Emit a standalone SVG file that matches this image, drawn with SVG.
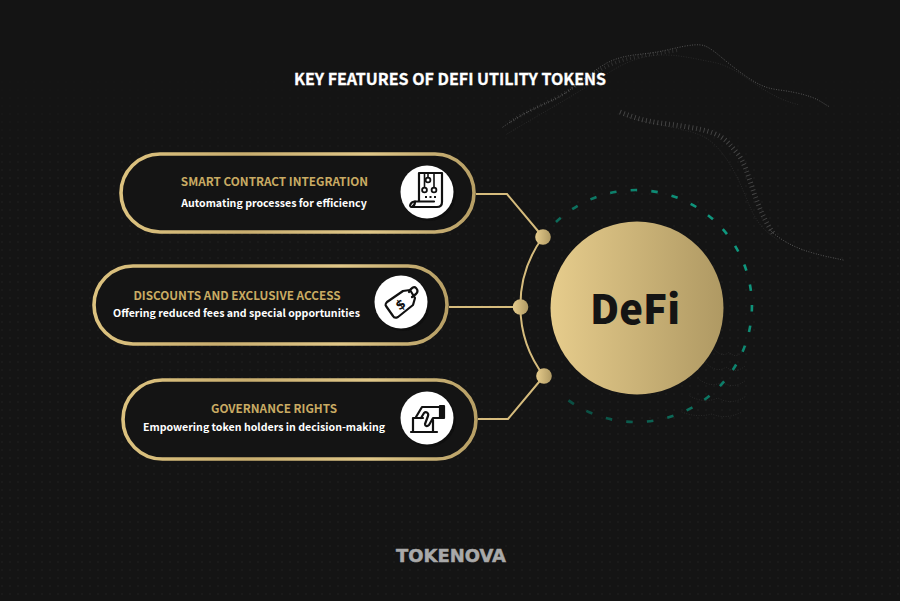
<svg xmlns="http://www.w3.org/2000/svg" width="900" height="601" viewBox="0 0 900 601">
<style>
.h{font-family:"Noto Sans CJK KR","Noto Sans",sans-serif;font-weight:700;font-size:11.75px;fill:#c9ab63;text-anchor:middle}
.s{font-family:"Noto Sans CJK KR","Noto Sans",sans-serif;font-weight:700;font-size:10.6px;fill:#fff;text-anchor:middle}
.pill{fill:#141414;stroke:url(#pg);stroke-width:3.6}
.conn{fill:none;stroke:#d6bc7d;stroke-width:2}
.dot{fill:url(#gold)}
.ic{fill:none;stroke:#111;stroke-width:2.2;stroke-linejoin:round;stroke-linecap:round}
.cc{fill:none;stroke:#111;stroke-width:1.8}
.wave{fill:none;stroke:#aaa;stroke-linecap:round;stroke-dasharray:0.1 2.4}
.comb{fill:none;stroke:#999;stroke-dasharray:.9 3}
</style>
<defs>
<linearGradient id="gold" x1="0" x2="1" y1="0" y2="0"><stop offset="0" stop-color="#e6cc8c"/><stop offset="1" stop-color="#af9963"/></linearGradient>
<linearGradient id="pg" x1="0" x2="1" y1="0" y2="0"><stop offset="0" stop-color="#dcc27f"/><stop offset=".35" stop-color="#c9ae6f"/><stop offset=".7" stop-color="#e0c788"/><stop offset="1" stop-color="#b79f65"/></linearGradient>
<linearGradient id="teal" gradientUnits="userSpaceOnUse" x1="540" x2="752" y1="380" y2="250"><stop offset="0" stop-color="#0a4a3f"/><stop offset="1" stop-color="#0f9c82"/></linearGradient>
<pattern id="dots" width="8" height="8" patternUnits="userSpaceOnUse"><circle cx="2" cy="2" r=".75" fill="#212121"/></pattern>
<linearGradient id="fade" x1="0" x2="0" y1="0" y2="1"><stop offset="0" stop-color="#fff" stop-opacity="0"/><stop offset=".2" stop-color="#fff"/><stop offset="1" stop-color="#fff"/></linearGradient>
<mask id="m"><rect y="60" width="900" height="541" fill="url(#fade)"/></mask>
</defs>
<rect width="900" height="601" fill="#141414"/>
<rect width="900" height="601" fill="url(#dots)" mask="url(#m)"/>
<g id="background-waves">
<path class="wave" stroke-width="1" opacity=".5" d="M503 127C520 115 535 108 553 100S590 72 607 63 640 55 657 52 695 42 705 46 725 62 747 77 775 88 797 93 820 102 830 107"/>
<path class="comb" stroke-width="3.500" opacity=".22" d="M510 122C525 112 540 106 556 98S590 74 610 65 650 55 680 50"/>
<path class="wave" stroke-width=".8" opacity=".2" d="M507 134C530 120 570 98 610 72S680 56 712 62 760 96 800 105"/>
<path class="comb" stroke-width="5" opacity=".38" d="M620 112C635 118 645 121 660 123S700 128 713 133 730 145 737 153 748 175 753 190 765 222 773 233"/>
<path class="wave" stroke-width="1" opacity=".5" d="M770 230C780 240 795 248 813 253S835 258 843 260"/>
<path class="wave" stroke-width=".8" opacity=".2" d="M625 116C645 124 690 128 706 138S735 170 745 195 760 228 778 240"/>
<path class="wave" stroke-width=".8" opacity=".3" d="M250 158C265 163 280 163 293 160M367 197C378 194 390 194 400 195"/>
<path class="wave" stroke-width=".8" opacity=".2" d="M715 350q8 8 14 2q8 8 14-2M708 365q10 8 18 2q10 8 20-2M700 380q12 8 22 2q12 8 24-2M690 396q14 8 28 2q14 8 28-2M682 412q14 6 30 2q14 6 30-2"/>
</g>
<text id="title" x="450" y="85" font-family="'Noto Sans CJK KR','Noto Sans',sans-serif" font-weight="700" font-size="16px" fill="#fff" text-anchor="middle" stroke="#fff" stroke-width=".3">KEY FEATURES OF DEFI UTILITY TOKENS</text>
<g id="connectors">
<path class="conn" d="M476 194H507L543 237"/>
<path class="conn" d="M449 307H520"/>
<path class="conn" d="M478 419H508L544 376"/>
<path class="conn" d="M543 237A116 116 0 0 0 544 376"/>
</g>
<g id="hub">
<path d="M556 222A116 116 0 1 1 558 392" fill="none" stroke="url(#teal)" stroke-width="2.600" stroke-dasharray="6.500 14.200"/>
<circle cx="637" cy="308" r="86.500" fill="url(#gold)"/>
<text x="635" y="324" font-family="'Noto Sans CJK KR','Noto Sans',sans-serif" font-weight="900" font-size="40px" fill="#141414" text-anchor="middle">DeFi</text>
<circle class="dot" cx="543" cy="237" r="7.800"/>
<circle class="dot" cx="520.500" cy="307" r="7.800"/>
<circle class="dot" cx="544" cy="376" r="7.800"/>
</g>
<g id="node-smart-contract">
<rect class="pill" x="121" y="154" width="353" height="78" rx="39"/>
<text class="h" x="274.500" y="185.500">SMART CONTRACT INTEGRATION</text>
<text class="s" x="274" y="207">Automating processes for efficiency</text>
<circle cx="429" cy="194" r="27" fill="#0c0c0c" opacity=".6"/>
<circle cx="427" cy="192" r="26.500" fill="#fff"/>
<g class="ic">
<path d="M419 201V173H442V202C442 205 440 207 437 207H412C414 206 415 204 415 201.500H434"/>
<path d="M412 207C408 207 411 201.500 415 201.500"/>
<path d="M428 174V177M424.500 174V187M434 174V187" stroke-width="1.600"/>
</g>
<circle class="cc" cx="428" cy="180" r="2.400"/>
<circle class="cc" cx="424.500" cy="190" r="2.400"/>
<circle class="cc" cx="434" cy="190" r="2.400"/>
<path d="M425 197h2M429.500 197h2M434 197h2" stroke="#111" stroke-width="2"/>
</g>
<g id="node-discounts">
<rect class="pill" x="94" y="266" width="353" height="78" rx="39"/>
<text class="h" x="237" y="299.500">DISCOUNTS AND EXCLUSIVE ACCESS</text>
<text class="s" x="236.500" y="317">Offering reduced fees and special opportunities</text>
<circle cx="403" cy="304" r="27" fill="#0c0c0c" opacity=".6"/>
<circle cx="401" cy="302" r="26.500" fill="#fff"/>
<g class="ic">
<path d="M387 302L403 291L410 290L415 298L413 305L398 317C396 318 394 318 393 316L386 306C385 305 386 303 387 302Z"/>
<path d="M409 292C411 288 414 286 416 288S418 292 416 294L412 297"/>
</g>
<text x="400" y="309" transform="rotate(-35 400 304)" font-family="'DejaVu Sans',sans-serif" font-weight="700" font-size="13px" fill="#111" text-anchor="middle">$</text>
</g>
<g id="node-governance">
<rect class="pill" x="123" y="380" width="353" height="79" rx="39.500"/>
<text class="h" x="274" y="412.500">GOVERNANCE RIGHTS</text>
<text class="s" x="264" y="431">Empowering token holders in decision-making</text>
<circle cx="429" cy="420" r="27" fill="#0c0c0c" opacity=".6"/>
<circle cx="427" cy="418" r="26.500" fill="#fff"/>
<g class="ic">
<path d="M411 432H437M413 432V418H423M433 420V432"/>
<path d="M416 417L422 407H440V418H433L429 425C427 427 425 426 425 424L428 416C429 413 426 411 424 413L421 418"/>
<path d="M440 406H444V418H440" fill="#111"/>
</g>
</g>
<text id="logo" x="451" y="562" font-family="'DejaVu Sans',sans-serif" font-weight="700" font-size="18.500px" fill="#a9a9a9" stroke="#a9a9a9" stroke-width=".5" text-anchor="middle" textLength="110" lengthAdjust="spacingAndGlyphs">TOKENOVA</text>
</svg>
